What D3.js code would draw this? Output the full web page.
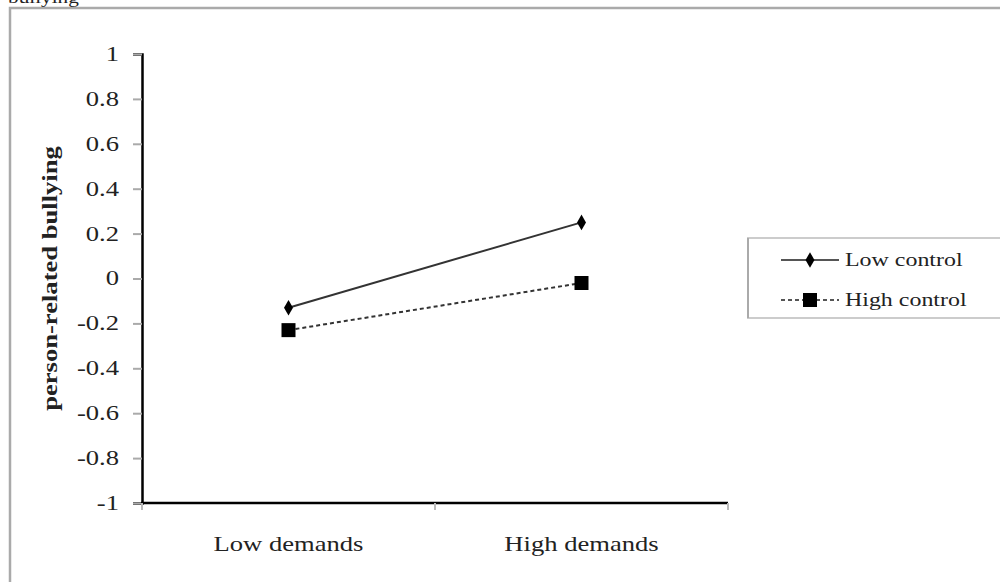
<!DOCTYPE html>
<html>
<head>
<meta charset="utf-8">
<script src="https://cdn.jsdelivr.net/npm/d3@7"></script>
<style>
  html, body { margin: 0; padding: 0; background: #fff; }
  svg { display: block; }
  text { font-family: "Liberation Serif", "DejaVu Serif", serif; fill: #222; }
</style>
</head>
<body>
<svg id="chart" width="1000" height="582"></svg>
<script>
// Interaction plot: job demands x job control on person-related bullying
const categories = ["Low demands", "High demands"];
const seriesNames = ["Low control", "High control"];
const lowControl = [-0.13, 0.25];
const highControl = [-0.23, -0.02];
const yTicks = [1, 0.8, 0.6, 0.4, 0.2, 0, -0.2, -0.4, -0.6, -0.8, -1];
const yLabel = "person-related bullying";

// the typeface is set a little wide
const stretch = 1.33;

const svg = d3.select("#chart");

// outer frame (only top and left edges fall inside the view)
svg.append("path")
  .attr("d", "M10,600 V8 H1010")
  .attr("fill", "none")
  .attr("stroke", "#aaa")
  .attr("stroke-width", 2.5);

// caption line running off the top edge
svg.append("text")
  .attr("transform", `translate(8,3) scale(${stretch},1)`)
  .attr("font-size", 16)
  .attr("fill", "#555")
  .text("bullying");

const x = d3.scaleBand().domain(categories).range([142, 728]).padding(0);
const y = d3.scaleLinear().domain([-1, 1]).range([503, 54]);

// y axis
const tickSize = 9, tickPad = 14;
const fmt = d => String(Math.round(d * 10) / 10);
const yAxis = d3.axisLeft(y).tickValues(yTicks).tickFormat(fmt)
  .tickSize(tickSize).tickPadding(tickPad);
const gy = svg.append("g").attr("transform", "translate(142,0)").call(yAxis);
gy.select(".domain").attr("stroke", "#000").attr("stroke-width", 2.5);
gy.selectAll(".tick line").attr("stroke", "#aaa").attr("stroke-width", 2);
gy.selectAll(".tick text")
  .attr("font-family", "Liberation Serif, serif")
  .attr("font-size", 20).attr("fill", "#333")
  .attr("x", -(tickSize + tickPad) / stretch)
  .attr("transform", `scale(${stretch},1)`);

// x axis with ticks at band boundaries
const gx = svg.append("g");
gx.append("line")
  .attr("x1", x.range()[0] - 1).attr("x2", x.range()[1])
  .attr("y1", y(-1)).attr("y2", y(-1))
  .attr("stroke", "#000").attr("stroke-width", 2.5);
const bounds = [x.range()[0]].concat(categories.map(c => x(c) + x.bandwidth()));
gx.selectAll("line.tk").data(bounds).enter().append("line")
  .attr("class", "tk")
  .attr("x1", d => d).attr("x2", d => d)
  .attr("y1", y(-1)).attr("y2", y(-1) + 7)
  .attr("stroke", "#bbb").attr("stroke-width", 2);
gx.selectAll("text").data(categories).enter().append("text")
  .attr("transform", d => `translate(${x(d) + x.bandwidth() / 2},551) scale(${stretch},1)`)
  .attr("text-anchor", "middle")
  .attr("font-size", 20).attr("fill", "#333")
  .text(d => d);

// y axis title
svg.append("text")
  .attr("transform", `translate(57,${(y(1) + y(-1)) / 2}) rotate(-90) scale(${stretch},1)`)
  .attr("text-anchor", "middle")
  .attr("font-size", 20)
  .attr("font-weight", "bold")
  .attr("fill", "#222")
  .text(yLabel);

const cx = c => x(c) + x.bandwidth() / 2;
const line = d3.line().x(d => cx(d.c)).y(d => y(d.v));

const series = [
  { name: seriesNames[0], values: lowControl, dash: null, marker: "diamond" },
  { name: seriesNames[1], values: highControl, dash: "4,3", marker: "square" }
];

const markerPath = m => m === "diamond"
  ? d3.symbol().type(d3.symbolDiamond).size(70)()
  : "M-7,-7H7V7H-7Z";

series.forEach(s => {
  const pts = s.values.map((v, i) => ({ c: categories[i], v }));
  svg.append("path")
    .datum(pts)
    .attr("d", line)
    .attr("fill", "none")
    .attr("stroke", "#333")
    .attr("stroke-width", 2)
    .attr("stroke-dasharray", s.dash);
  svg.selectAll(null).data(pts).enter().append("path")
    .attr("transform", d => `translate(${cx(d.c)},${y(d.v)})`)
    .attr("d", markerPath(s.marker))
    .attr("fill", "#000");
});

// legend
const lg = svg.append("g");
lg.append("path")
  .attr("d", "M1010,238 H748 V318 H1010")
  .attr("fill", "#fff")
  .attr("stroke", "#ccc")
  .attr("stroke-width", 2);
lg.append("line").attr("x1", 748).attr("x2", 748).attr("y1", 238).attr("y2", 318)
  .attr("stroke", "#aaa").attr("stroke-width", 2);
const legendY = [260, 300];
series.forEach((s, i) => {
  const ly = legendY[i];
  lg.append("line")
    .attr("x1", 781).attr("x2", 839).attr("y1", ly).attr("y2", ly)
    .attr("stroke", "#555").attr("stroke-width", 2)
    .attr("stroke-dasharray", s.dash);
  lg.append("path")
    .attr("transform", `translate(810,${ly})`)
    .attr("d", markerPath(s.marker))
    .attr("fill", "#000");
  lg.append("text")
    .attr("transform", `translate(845,${ly + 6}) scale(${stretch},1)`)
    .attr("font-size", 18).attr("fill", "#333")
    .text(s.name);
});
</script>
</body>
</html>
